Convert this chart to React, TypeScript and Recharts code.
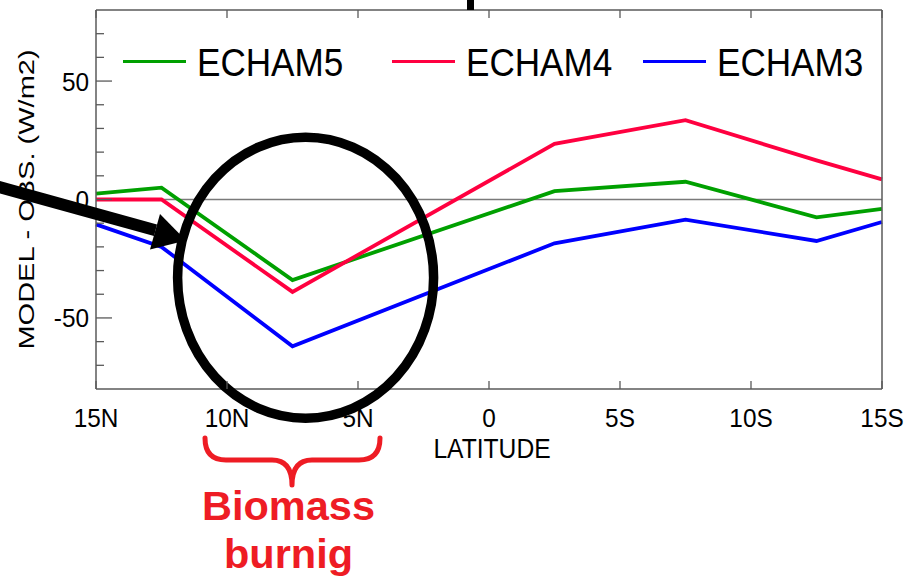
import React from 'react';
import { LineChart, Line, XAxis, YAxis, ReferenceLine, ReferenceDot, Legend } from 'recharts';

// Zonal means of model minus observed flux (W/m2), 15N to 15S
const latitudes = [15, 12.5, 7.5, -2.5, -7.5, -12.5, -15];
const echam5 = [2.5, 5, -34, 3.5, 7.5, -7.5, -4];
const echam4 = [0, 0, -39, 23.5, 33.5, 16.5, 8.5];
const echam3 = [-10.5, -20, -62, -18.5, -8.5, -17.5, -9.5];

const seriesNames = ['ECHAM5', 'ECHAM4', 'ECHAM3'];
const seriesColors = ['#00a000', '#ff0040', '#0000ff'];

const latTicks = [15, 10, 5, 0, -5, -10, -15];
const latTickLabels = ['15N', '10N', '5N', '0', '5S', '10S', '15S'];
const valueTicks = [-70, -60, -50, -40, -30, -20, -10, 0, 10, 20, 30, 40, 50, 60, 70];
const labeledValues = [-50, 0, 50];

// Highlighted region centre (latitude, value)
const highlightLat = 7;
const highlightValue = -33;

const data = latitudes.map((lat, i) => ({
  lat,
  ECHAM5: echam5[i],
  ECHAM4: echam4[i],
  ECHAM3: echam3[i],
}));

const W = 907;
const H = 579;
const FONT = '"Liberation Sans", Arial, Helvetica, sans-serif';
const FRAME = '#5a5a5a';
const ANNOT_RED = '#ee1c24';
const legendLeft = [123, 392, 643];

const BottomTick = (props: any) => {
  const { x, y, payload } = props;
  const idx = latTicks.indexOf(payload.value);
  return (
    <g>
      <line x1={x} x2={x} y1={y} y2={y - 8} stroke={FRAME} strokeWidth={1.3} />
      <text
        transform={`translate(${x},${y + 38}) scale(0.92,1)`}
        textAnchor="middle"
        fontFamily={FONT}
        fontSize={26.5}
        fill="#000"
      >
        {idx >= 0 ? latTickLabels[idx] : ''}
      </text>
    </g>
  );
};

const TopTick = (props: any) => {
  const { x, y } = props;
  return <line x1={x} x2={x} y1={y} y2={y + 8} stroke={FRAME} strokeWidth={1.3} />;
};

const LeftTick = (props: any) => {
  const { x, y, payload } = props;
  const major = labeledValues.includes(payload.value);
  return (
    <g>
      <line x1={x} x2={x + (major ? 16 : 8)} y1={y} y2={y} stroke={FRAME} strokeWidth={1.3} />
      {major && (
        <text
          transform={`translate(${x - 7},${y + 9.5}) scale(0.92,1)`}
          textAnchor="end"
          fontFamily={FONT}
          fontSize={26.5}
          fill="#000"
        >
          {payload.value}
        </text>
      )}
    </g>
  );
};

const RightTick = (props: any) => {
  const { x, y, payload } = props;
  const major = labeledValues.includes(payload.value);
  return <line x1={x} x2={x - (major ? 17 : 9)} y1={y} y2={y} stroke={FRAME} strokeWidth={1.3} />;
};

const YTitle = (props: any) => {
  const vb = props.viewBox || { x: 0, y: 10, width: 96, height: 379 };
  const cy = vb.y + vb.height / 2;
  return (
    <text
      transform={`translate(33.5,${cy}) scale(0.75,1) rotate(-90)`}
      textAnchor="middle"
      fontFamily={FONT}
      fontSize={29}
      fill="#000"
    >
      MODEL - OBS. (W/m2)
    </text>
  );
};

const XTitle = (props: any) => {
  const vb = props.viewBox || { x: 96, y: 389, width: 786, height: 30 };
  const cx = vb.x + vb.width / 2 + 3;
  return (
    <text
      transform={`translate(${cx},${vb.y + 69}) scale(0.88,1)`}
      textAnchor="middle"
      fontFamily={FONT}
      fontSize={28}
      fill="#000"
    >
      LATITUDE
    </text>
  );
};

const renderLegend = () => (
  <div style={{ position: 'relative', width: W, height: 0 }}>
    {seriesNames.map((name, i) => (
      <React.Fragment key={name}>
        <div
          style={{
            position: 'absolute',
            left: legendLeft[i],
            top: 60,
            width: 63,
            height: 2.5,
            background: seriesColors[i],
          }}
        />
        <div
          style={{
            position: 'absolute',
            left: legendLeft[i] + 74,
            top: 40.5,
            fontFamily: FONT,
            fontSize: 39,
            lineHeight: '44px',
            color: '#000',
            whiteSpace: 'nowrap',
            transform: 'scaleX(0.9)',
            transformOrigin: 'left center',
          }}
        >
          {name}
        </div>
      </React.Fragment>
    ))}
  </div>
);

const HighlightEllipse = (props: any) => {
  const { cx, cy } = props;
  if (cx == null || cy == null) return null;
  return <ellipse cx={cx} cy={cy} rx={128} ry={140.5} fill="none" stroke="#000" strokeWidth={9.5} />;
};

export default function App() {
  return (
    <div style={{ position: 'absolute', left: 0, top: 0, width: W, height: H, background: '#fff' }}>
      <LineChart width={W} height={H} data={data} margin={{ top: 0, right: 0, bottom: 160, left: 0 }}>
        <XAxis
          xAxisId="top"
          orientation="top"
          type="number"
          dataKey="lat"
          domain={[-15, 15]}
          reversed
          ticks={latTicks}
          interval={0}
          height={10}
          tickSize={0}
          tickMargin={0}
          tickLine={false}
          axisLine={{ stroke: FRAME, strokeWidth: 1.5 }}
          tick={<TopTick />}
        />
        <XAxis
          type="number"
          dataKey="lat"
          domain={[-15, 15]}
          reversed
          ticks={latTicks}
          interval={0}
          height={30}
          tickSize={0}
          tickMargin={0}
          tickLine={false}
          axisLine={{ stroke: FRAME, strokeWidth: 1.5 }}
          tick={<BottomTick />}
          label={{ content: <XTitle /> }}
        />
        <YAxis
          type="number"
          domain={[-80, 80]}
          ticks={valueTicks}
          interval={0}
          width={96}
          tickSize={0}
          tickMargin={0}
          tickLine={false}
          axisLine={{ stroke: FRAME, strokeWidth: 1.5 }}
          tick={<LeftTick />}
          label={{ content: <YTitle /> }}
        />
        <YAxis
          yAxisId="right"
          orientation="right"
          type="number"
          domain={[-80, 80]}
          ticks={valueTicks}
          interval={0}
          width={25}
          tickSize={0}
          tickMargin={0}
          tickLine={false}
          axisLine={{ stroke: FRAME, strokeWidth: 1.5 }}
          tick={<RightTick />}
        />
        <ReferenceLine y={0} stroke="#7a7a7a" strokeWidth={1.3} />
        {seriesNames.map((name, i) => (
          <Line
            key={name}
            type="linear"
            dataKey={name}
            stroke={seriesColors[i]}
            strokeWidth={3.8}
            dot={false}
            activeDot={false}
            isAnimationActive={false}
          />
        ))}
        <Legend
          verticalAlign="top"
          content={renderLegend}
          wrapperStyle={{ position: 'absolute', top: 0, left: 0, width: W, height: 0 }}
        />
        <ReferenceDot
          x={highlightLat}
          y={highlightValue}
          ifOverflow="visible"
          shape={<HighlightEllipse />}
        />
      </LineChart>
      <svg
        width={W}
        height={H}
        style={{ position: 'absolute', left: 0, top: 0, pointerEvents: 'none' }}
      >
        {/* pointer entering from the left */}
        <polygon points="-5,179.5 157,224.5 154,236 -5,192" fill="#000" />
        <polygon points="160,214 186,240.5 150,249.5" fill="#000" />
        {/* pointer stub at the top edge */}
        <rect x={467} y={0} width={7} height={10} fill="#000" />
        {/* brace under the burning latitudes */}
        <path
          d="M205,438 Q205,460 226,460 L272,460 Q292,460 292,485 Q292,460 312,460 L359,460 Q380,460 380,438"
          fill="none"
          stroke={ANNOT_RED}
          strokeWidth={5}
          strokeLinecap="round"
          strokeLinejoin="round"
        />
        <text x={288.5} y={520} textAnchor="middle" fontFamily={FONT} fontWeight="bold" fontSize={41.5} fill={ANNOT_RED}>
          Biomass
        </text>
        <text x={288.5} y={568} textAnchor="middle" fontFamily={FONT} fontWeight="bold" fontSize={41.5} fill={ANNOT_RED}>
          burnig
        </text>
      </svg>
    </div>
  );
}
